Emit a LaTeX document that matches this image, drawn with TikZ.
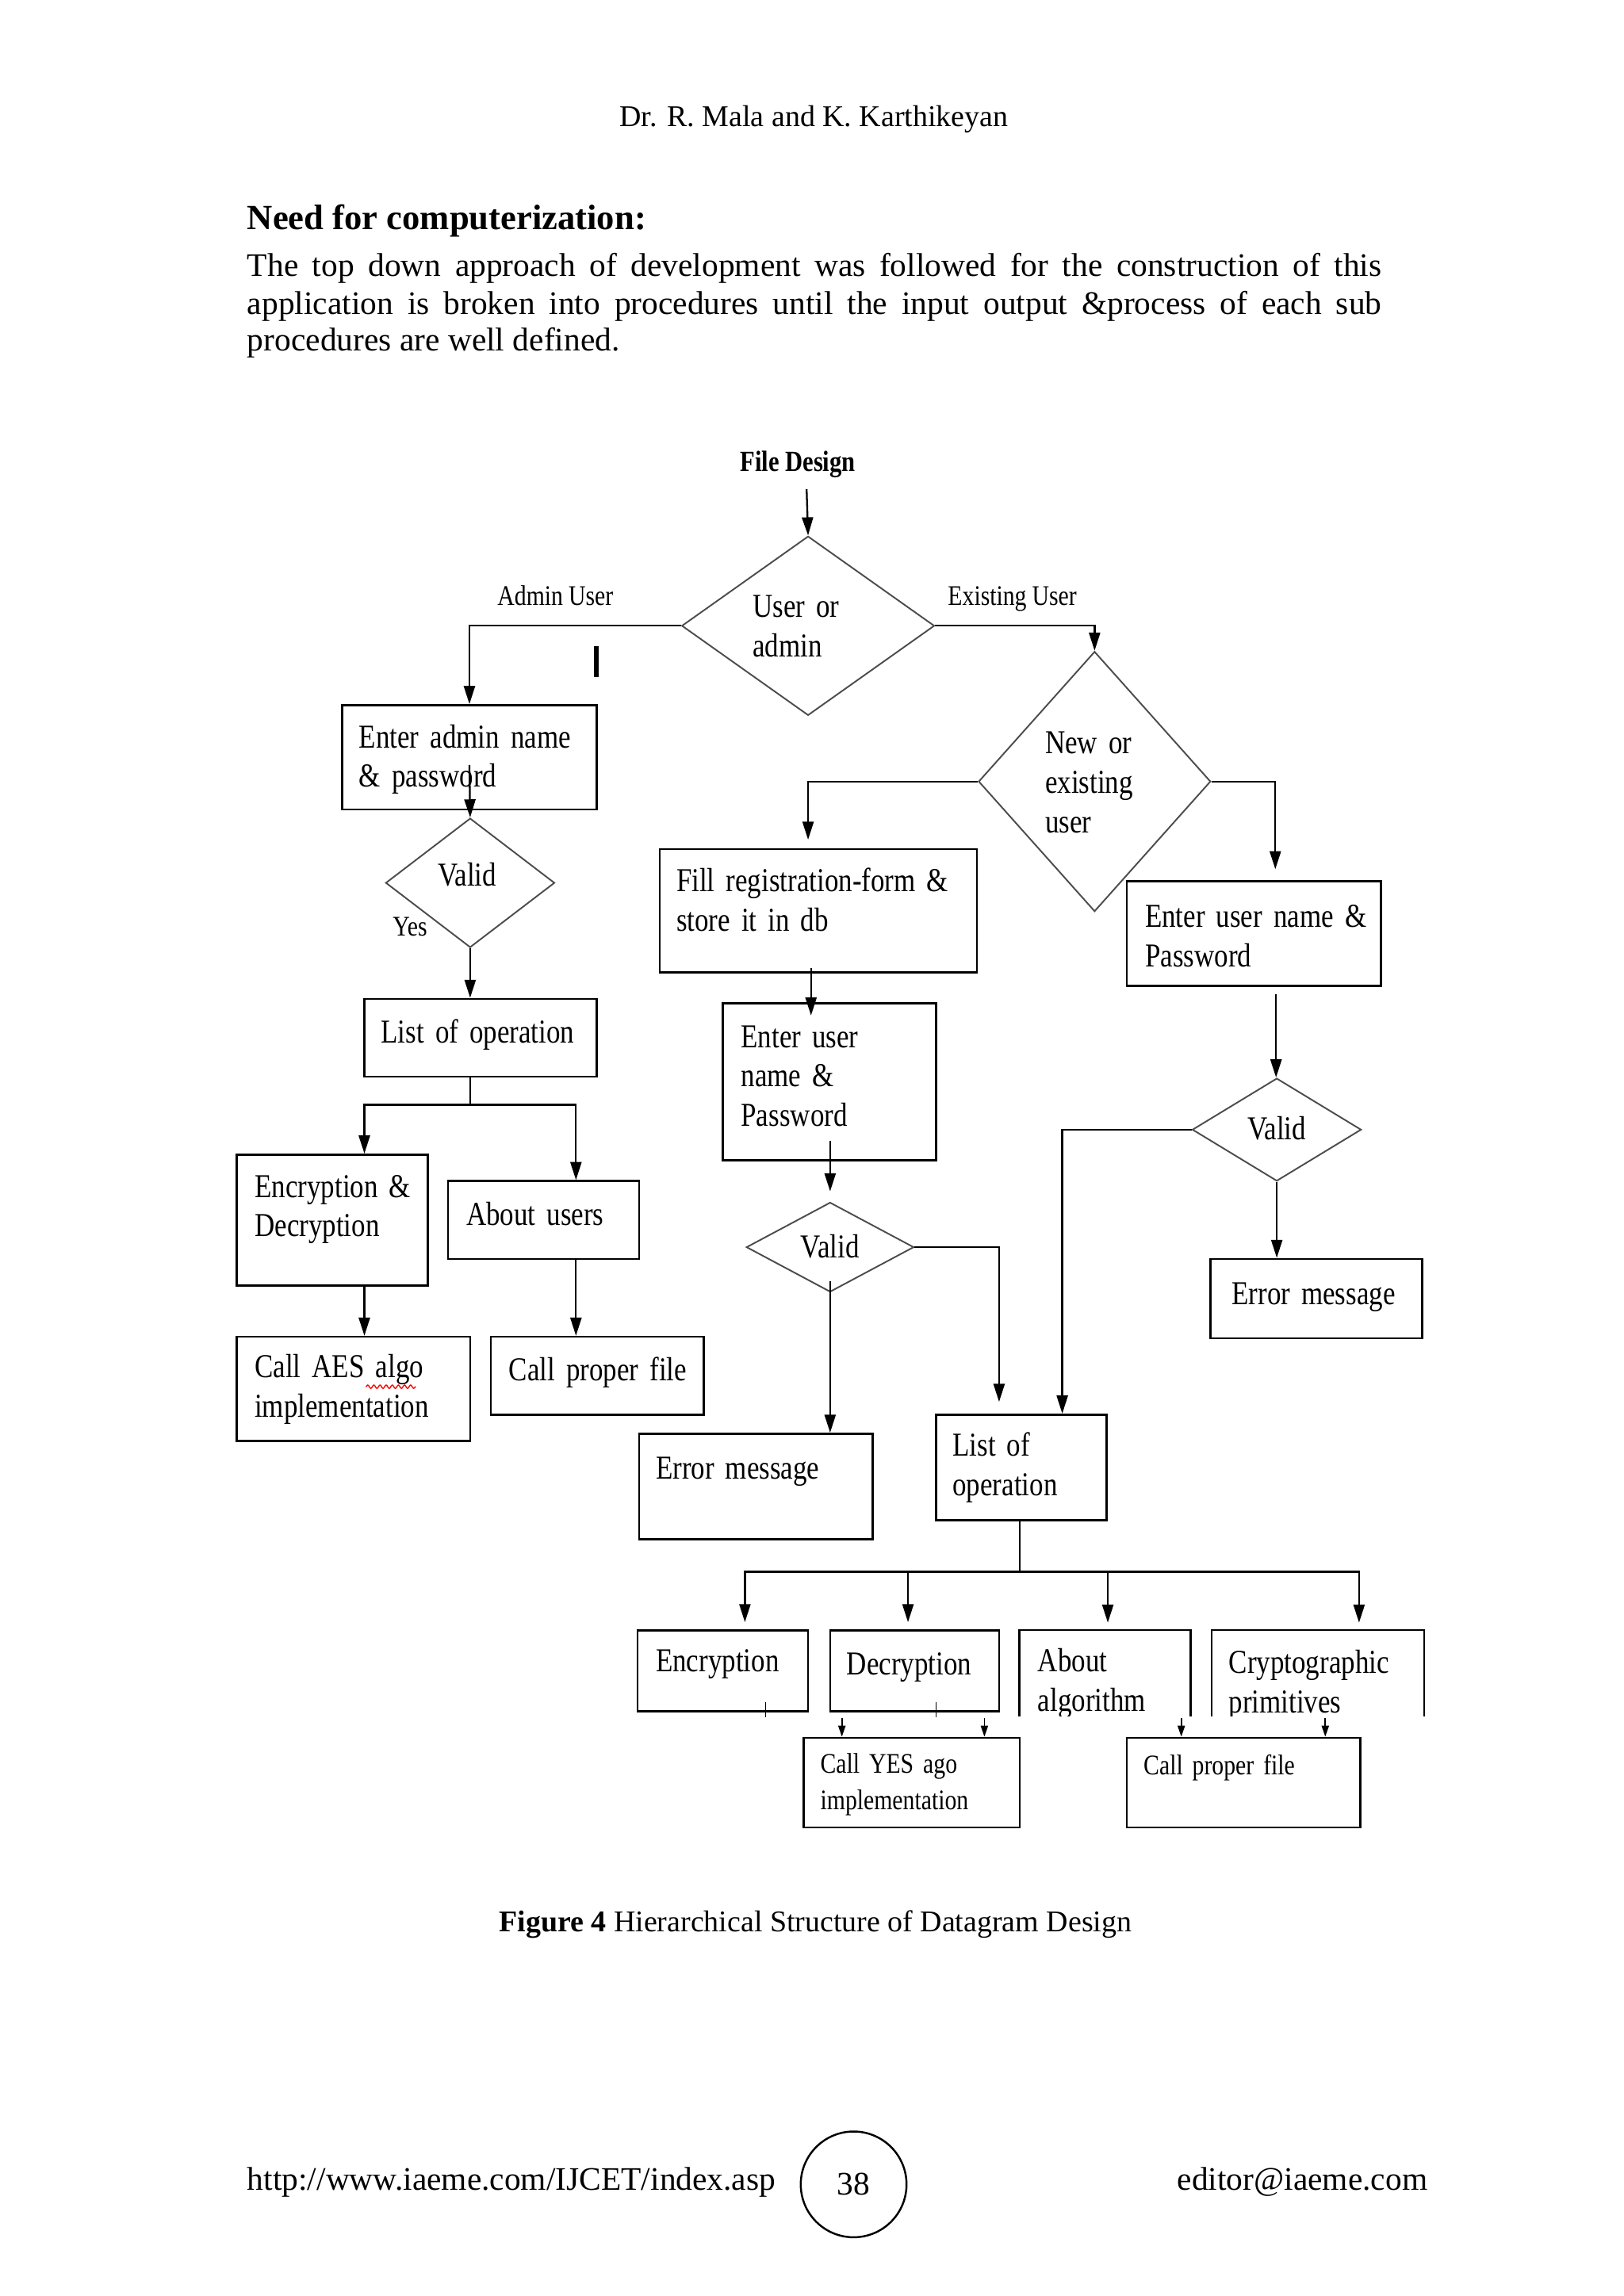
\documentclass[tikz,border=0pt]{standalone}
\usepackage{fontspec}
\setmainfont{Liberation Serif}
\newfontfamily\dgf[FakeStretch=0.83]{Liberation Serif}
\usetikzlibrary{arrows.meta,shapes.geometric,calc,fit,decorations.pathmorphing}
\newlength\uu
\setlength\uu{0.018534cm}
\newcommand\dgbig{\dgf\fontsize{12}{14.2}\selectfont\spaceskip=2.3pt plus 1pt minus 0.5pt\relax}
\newcommand\dgsmall{\dgf\fontsize{10.2}{13.2}\selectfont\spaceskip=2pt plus 1pt minus 0.4pt\relax}
\tikzset{
 dt/.style={font=\dgbig, anchor=base west, inner sep=0pt, align=left, text width=260*\uu},
 dtc/.style={font=\dgbig, anchor=base, inner sep=0pt},
 ds/.style={font=\dgsmall, anchor=base west, inner sep=0pt, align=left, text width=200*\uu},
 dsc/.style={font=\dgsmall, anchor=base, inner sep=0pt},
 bx/.style={draw, line width=0.75pt, inner sep=0pt, rectangle},
 ob/.style={inner sep=0pt, rectangle},
 bxl/.style={line width=0.75pt},
 dia/.style={draw=black!70, line width=0.55pt, diamond, inner sep=0pt},
 ln/.style={line width=0.65pt},
 ar/.style={ln, -{Triangle[length=6.5pt,width=4pt]}},
 sar/.style={line width=0.5pt, -{Triangle[length=4pt,width=2.6pt]}},
 pg/.style={inner sep=0pt}
}
\begin{document}
\begin{tikzpicture}[x=0.018534cm, y=-0.018534cm]
\useasboundingbox (0,0) rectangle (1105.3,1563);
\fill[white] (0,0) rectangle (1105.3,1563);

% ---------- page text ----------
\node[pg, anchor=base, font=\fontsize{10.8}{13}\selectfont] (hdr) at (554,86) {Dr. R. Mala and K. Karthikeyan};
\node[pg, anchor=base west, font=\bfseries\fontsize{12.7}{15}\selectfont] (head) at (168,156) {Need for computerization:};
\node[pg, anchor=base west, font=\fontsize{11.8}{13.4}\selectfont] (p1) at (168,188) {\makebox[772\uu][s]{The top down approach of development was followed for the construction of this}};
\node[pg, anchor=base west, font=\fontsize{11.8}{13.4}\selectfont] (p2) at (168,214) {\makebox[772\uu][s]{application is broken into procedures until the input output \&process of each sub}};
\node[pg, anchor=base west, font=\fontsize{11.8}{13.4}\selectfont] (p3) at (168,239) {procedures are well defined.};

\node[pg, anchor=base, font=\fontsize{10.8}{13}\selectfont] (cap) at (555,1315) {\textbf{Figure 4} Hierarchical Structure of Datagram Design};

\node[pg, anchor=base west, font=\fontsize{11.8}{14}\selectfont] (url) at (168,1491) {http://www.iaeme.com/IJCET/index.asp};
\node[draw, circle, minimum size=72*\uu, inner sep=0pt, line width=0.7pt, font=\fontsize{11.8}{14}\selectfont] (pgno) at (581,1487) {38};
\node[pg, anchor=base east, font=\fontsize{11.8}{14}\selectfont] (mail) at (972,1491) {editor@iaeme.com};

% ---------- diagram ----------
\node[pg, anchor=base, font=\dgf\bfseries\fontsize{10.5}{12}\selectfont] (fd) at (543,321) {File Design};
\coordinate (fdb) at (549,333);

% decision: user or admin
\node[dia, minimum width=172*\uu, minimum height=122*\uu] (d1) at (550,426) {};
\node[dt] (d1t) at (512,420) {User or\\admin};
\draw[ar] (fdb) -- (d1.north);

% admin branch
\node[bx, fit={(233,480) (406,551)}] (adm) {};
\node[dt] (admt) at (244,509) {Enter admin name\\\& password};
\draw[ar] (d1.west) -| (adm.north);
\node[dsc] (lab1) at (378,412) {Admin User};
\draw[line width=1.6pt] (406,440) -- (406,461);

\node[dia, minimum width=115*\uu, minimum height=88*\uu] (v1) at (320,601) {};
\node[dtc] (v1t) at (318,603) {Valid};
\node[dsc] (yes) at (279,637) {Yes};
\draw[ar] ($(adm.south)+(0,-31)$) -- (v1.north);

\node[bx, fit={(248,680) (406,733)}] (lst1) {};
\node[dt] (lst1t) at (259,710) {List of operation};
\draw[ar] (v1.south) -- (v1.south |- lst1.north);

\coordinate (j1) at (320,752);
\draw[ln] (v1.south |- lst1.south) -- (j1);

\node[bx, fit={(161,786) (291,875)}] (ed) {};
\node[dt] (edt) at (173,815) {Encryption \&\\Decryption};
\node[bx, fit={(305,804) (435,857)}] (au) {};
\node[dt] (aut) at (317,834) {About users};
\draw[ar] (j1) -| ($(ed.north)+(22,0)$);
\draw[ar] (j1) -| ($(au.north)+(22,0)$);

\node[bx, fit={(161,910) (320,981)}] (aes) {};
\node[dt] (aest) at (173,938) {Call AES algo\\implementation};
\draw[red, line width=0.4pt, decorate, decoration={snake, amplitude=0.6pt, segment length=2.2pt}] (249,944) -- (283,944);
\node[bx, fit={(334,910) (479,963)}] (cpf1) {};
\node[dt] (cpf1t) at (346,940) {Call proper file};
\draw[ar] ($(ed.south)+(22,0)$) coordinate (eda) -- (eda |- aes.north);
\draw[ar] ($(au.south)+(22,0)$) coordinate (aua) -- (aua |- cpf1.north);

% user branch
\node[dsc] (lab2) at (689,412) {Existing User};
\node[dia, minimum width=158*\uu, minimum height=177*\uu] (d2) at (745,532) {};
\node[dt] (d2t) at (711,513) {New or\\existing\\user};
\draw[ar] (d1.east) -| (d2.north);

\node[bx, fit={(449,578) (665,662)}] (fill) {};
\node[dt] (fillt) at (460,607) {Fill registration-form \&\\store it in db};
\draw[ar, shorten >=3pt] (d2.west) -| ($(fill.north)+(-7,0)$);

\node[bx, fit={(492,683) (637,790)}] (eu1) {};
\node[dt] (eu1t) at (504,713) {Enter user\\name \&\\Password};
\coordinate (fa) at ($(fill.south)+(-5,-4)$);
\draw[ar] (fa) -- ($(fa |- eu1.north)+(0,9)$);

\node[dia, minimum width=114*\uu, minimum height=61*\uu] (v2) at (565,849) {};
\node[dtc] (v2t) at (565,856) {Valid};
\coordinate (eb) at ($(eu1.south)+(0.5,-14)$);
\draw[ar] (eb) -- ($(eb |- v2.north)+(0,-7)$);

\node[bx, fit={(435,976) (594,1048)}] (err1) {};
\node[dt] (err1t) at (446,1007) {Error message};
\draw[ar] ($(v2.south)+(0,-8)$) -- (v2.south |- err1.north);

\node[bx, fit={(637,963) (753,1035)}] (lst2) {};
\node[dt] (lst2t) at (648,991) {List of\\operation};
\draw[ar] (v2.east) -| ($(lst2.north)+(-15,-8)$);

\node[bx, fit={(767,600) (940,671)}] (eu2) {};
\node[dt] (eu2t) at (779,631) {Enter user name \&\\Password};
\draw[ar, shorten >=4pt] (d2.east) -| ($(eu2.north)+(14.5,0)$);

\node[dia, minimum width=115*\uu, minimum height=70*\uu] (v3) at (869,769) {};
\node[dtc] (v3t) at (869,776) {Valid};
\coordinate (ex) at ($(eu2.south)+(15,5)$);
\draw[ar] (ex) -- (ex |- v3.north);
\draw[ar] (v3.west) -| ($(lst2.north)+(28,0)$);

\node[bx, fit={(824,857) (968,911)}] (err2) {};
\node[dt] (err2t) at (838,888) {Error message};
\draw[ar] (v3.south) -- (v3.south |- err2.north);

% operations tree
\coordinate (j2) at (694,1070);
\draw[ln] (lst2.south -| j2) -- (j2);

\node[bx, fit={(434,1110) (550,1165)}] (enc) {};
\node[dt] (enct) at (446,1138) {Encryption};
\node[bx, fit={(565,1110) (680,1165)}] (dec) {};
\node[dt] (dect) at (576,1140) {Decryption};
\node[ob, fit={(694,1110) (810,1168)}] (abt) {};
\node[ob, fit={(825,1110) (969,1168)}] (cry) {};
\draw[bxl] (abt.south west) -- (abt.north west) -- (abt.north east) -- (abt.south east);
\draw[bxl] (cry.south west) -- (cry.north west) -- (cry.north east) -- (cry.south east);
\begin{scope}
\clip (690,1100) rectangle (975,1168);
\node[dt] (abtt) at (706,1138) {About\\algorithm};
\node[dt] (cryt) at (836,1139) {Cryptographic\\primitives};
\end{scope}

\draw[ar] (j2) -| ($(enc.north)+(15,-5)$);
\draw[ar] (j2) -| ($(dec.north)+(-4.5,-5)$);
\draw[ar] (j2) -| ($(abt.north)+(2,-5)$);
\draw[ar] (j2) -| ($(cry.north)+(28,-5)$);

\draw[line width=0.4pt] (521,1159) -- (521,1169);
\draw[line width=0.4pt] (637,1159) -- (637,1169);

\node[bx, fit={(547,1183) (694,1244)}] (cys) {};
\node[ds] (cyst) at (558,1207) {Call YES ago\\implementation};
\draw[sar] ($(dec.south)+(-49.5,4)$) -- ($(cys.north)+(-47.5,0)$);
\draw[sar] ($(dec.south)+(47.5,4)$) -- ($(cys.north)+(49.5,0)$);

\node[bx, fit={(767,1183) (926,1244)}] (cpf2) {};
\node[ds] (cpf2t) at (778,1208) {Call proper file};
\draw[sar] ($(abt.south)+(52,1)$) -- ($(cpf2.north)+(-42.5,0)$);
\draw[sar] ($(cry.south)+(5,1)$) -- ($(cpf2.north)+(55.5,0)$);

\end{tikzpicture}
\end{document}
